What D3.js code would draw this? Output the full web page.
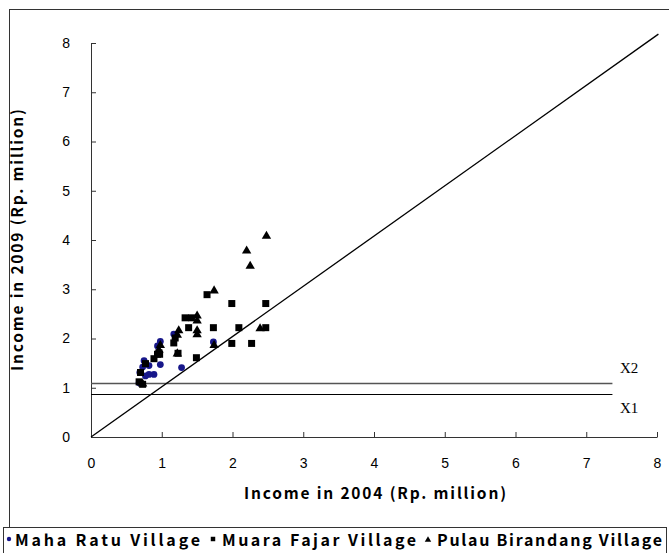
<!DOCTYPE html>
<html>
<head>
<meta charset="utf-8">
<script src="https://cdn.jsdelivr.net/npm/d3@7/dist/d3.min.js"></script>
<style>
  html, body { margin: 0; padding: 0; background: #fff; }
  svg { display: block; }
</style>
</head>
<body>
<svg id="chart" width="669" height="553"></svg>
<script>
// Household income, 2004 vs 2009 (Rp. million), by village
const seriesNames = ["Maha Ratu Village", "Muara Fajar Village", "Pulau Birandang Village"];

const mahaRatuX = [1.28, 1.73, 0.98, 0.94, 0.98, 0.82, 0.89, 0.82, 0.73, 0.69, 1.17, 0.68, 0.77, 0.75];
const mahaRatuY = [1.41, 1.93, 1.94, 1.85, 1.47, 1.45, 1.27, 1.27, 1.42, 1.31, 2.09, 1.10, 1.24, 1.55];

const muaraFajarX = [1.64, 1.99, 2.47, 1.33, 1.42, 1.38, 1.73, 2.09, 2.47, 1.99, 2.27, 1.49, 1.19, 1.17, 1.23, 0.97, 0.94, 0.89, 0.77, 0.70, 0.68, 0.73, 0.96];
const muaraFajarY = [2.89, 2.71, 2.71, 2.42, 2.42, 2.22, 2.22, 2.22, 2.22, 1.90, 1.90, 1.61, 2.01, 1.91, 1.70, 1.68, 1.68, 1.59, 1.49, 1.31, 1.12, 1.07, 1.71];

const pulauBirandangX = [2.48, 2.20, 2.25, 1.74, 1.50, 1.50, 1.50, 1.50, 1.24, 1.22, 1.22, 1.74, 2.39, 0.98, 0.96, 0.73];
const pulauBirandangY = [4.10, 3.80, 3.49, 2.99, 2.48, 2.38, 2.18, 2.10, 2.18, 2.09, 1.71, 1.88, 2.22, 1.88, 1.78, 1.10];

// Reference lines: equal-income diagonal and the two poverty thresholds
const diagonalX = [0, 8.02];
const diagonalY = [0, 8.18];
const thresholdNames = ["X1", "X2"];
const thresholdValues = [0.87, 1.09];
const thresholdEnd = 7.37;

const xTicks = [0, 1, 2, 3, 4, 5, 6, 7, 8];
const yTicks = [0, 1, 2, 3, 4, 5, 6, 7, 8];
const xTitle = "Income in 2004 (Rp. million)";
const yTitle = "Income in 2009 (Rp. million)";

const svg = d3.select("#chart");
const W = 669, H = 553;

svg.append("rect").attr("width", W).attr("height", H).attr("fill", "#fff");

// Outer chart frame
svg.append("rect")
  .attr("x", 9.5).attr("y", 9.5).attr("width", 680).attr("height", 600)
  .attr("fill", "none").attr("stroke", "#333").attr("stroke-width", 1);

const x = d3.scaleLinear().domain([0, 8]).range([91, 657]);
const y = d3.scaleLinear().domain([0, 8]).range([437, 43]);

const tickFont = "Liberation Sans, Arial, sans-serif";
const boldFont = "'Noto Sans CJK JP', 'Liberation Sans', sans-serif";

// Axes with inside ticks
const gx = svg.append("g").attr("transform", `translate(0,${y(0)})`)
  .call(d3.axisBottom(x).tickValues(xTicks).tickFormat(d3.format("d"))
    .tickSizeInner(-5).tickSizeOuter(0).tickPadding(21));
const gy = svg.append("g").attr("transform", `translate(${x(0)},0)`)
  .call(d3.axisLeft(y).tickValues(yTicks).tickFormat(d3.format("d"))
    .tickSizeInner(-5).tickSizeOuter(0).tickPadding(21));

[gx, gy].forEach(g => {
  g.select(".domain").attr("stroke", "#333");
  g.selectAll(".tick line").attr("stroke", "#333");
  g.selectAll(".tick text").attr("fill", "#000")
    .style("font-family", tickFont).style("font-size", "14px");
});

// Axis titles
svg.append("text")
  .attr("x", 375).attr("y", 499).attr("text-anchor", "middle")
  .attr("textLength", 262).attr("lengthAdjust", "spacing")
  .style("font-family", boldFont).style("font-weight", "bold").style("font-size", "15.5px")
  .text(xTitle);
svg.append("text")
  .attr("transform", "translate(23,240) rotate(-90)")
  .attr("text-anchor", "middle")
  .attr("textLength", 262).attr("lengthAdjust", "spacing")
  .style("font-family", boldFont).style("font-weight", "bold").style("font-size", "15.5px")
  .text(yTitle);

// Threshold lines
const thrColors = ["#000", "#555"];
thresholdValues.forEach((v, i) => {
  svg.append("line")
    .attr("x1", x(0)).attr("x2", x(thresholdEnd))
    .attr("y1", Math.round(y(v)) + 0.5).attr("y2", Math.round(y(v)) + 0.5)
    .attr("stroke", thrColors[i]).attr("stroke-width", i === 1 ? 1.6 : 1.2);
});
svg.append("text").attr("x", 620).attr("y", 373)
  .style("font-family", "'Liberation Serif', 'Times New Roman', serif").style("font-size", "15px")
  .text(thresholdNames[1]);
svg.append("text").attr("x", 620).attr("y", 413)
  .style("font-family", "'Liberation Serif', 'Times New Roman', serif").style("font-size", "15px")
  .text(thresholdNames[0]);

// Diagonal (income unchanged)
svg.append("line")
  .attr("x1", x(diagonalX[0])).attr("y1", y(diagonalY[0]))
  .attr("x2", x(diagonalX[1])).attr("y2", y(diagonalY[1]))
  .attr("stroke", "#000").attr("stroke-width", 1.3);

// Points
const toPts = (xs, ys) => xs.map((v, i) => [v, ys[i]]);
const sqSym = d3.symbol().type(d3.symbolSquare).size(49);
const triSym = d3.symbol().type(d3.symbolTriangle).size(38);

svg.append("g").selectAll("circle")
  .data(toPts(mahaRatuX, mahaRatuY)).join("circle")
  .attr("cx", d => x(d[0])).attr("cy", d => y(d[1])).attr("r", 3.4)
  .attr("fill", "#17178a");

svg.append("g").selectAll("path")
  .data(toPts(muaraFajarX, muaraFajarY)).join("path")
  .attr("transform", d => `translate(${x(d[0])},${y(d[1])})`)
  .attr("d", sqSym).attr("fill", "#000");

svg.append("g").selectAll("path")
  .data(toPts(pulauBirandangX, pulauBirandangY)).join("path")
  .attr("transform", d => `translate(${x(d[0])},${y(d[1]) + 1})`)
  .attr("d", triSym).attr("fill", "#000");

// Legend
const legend = svg.append("g");
legend.append("rect").attr("x", 3.5).attr("y", 527.5).attr("width", 663).attr("height", 40)
  .attr("fill", "#fff").attr("stroke", "#333");
const legendItems = [
  { name: seriesNames[0], mx: 9, tx: 15, tw: 185, kind: "circle" },
  { name: seriesNames[1], mx: 213, tx: 222, tw: 194, kind: "square" },
  { name: seriesNames[2], mx: 428, tx: 437, tw: 225, kind: "triangle" }
];
legendItems.forEach(it => {
  if (it.kind === "circle") {
    legend.append("circle").attr("cx", it.mx).attr("cy", 539).attr("r", 2.2).attr("fill", "#17178a");
  } else {
    const sym = d3.symbol().type(it.kind === "square" ? d3.symbolSquare : d3.symbolTriangle)
      .size(it.kind === "square" ? 20 : 18);
    legend.append("path").attr("transform", `translate(${it.mx},${it.kind === "square" ? 539 : 540})`)
      .attr("d", sym).attr("fill", "#000");
  }
  legend.append("text").attr("x", it.tx).attr("y", 546)
    .attr("textLength", it.tw).attr("lengthAdjust", "spacing")
    .style("font-family", boldFont).style("font-weight", "bold").style("font-size", "16px")
    .text(it.name);
});
</script>
</body>
</html>
